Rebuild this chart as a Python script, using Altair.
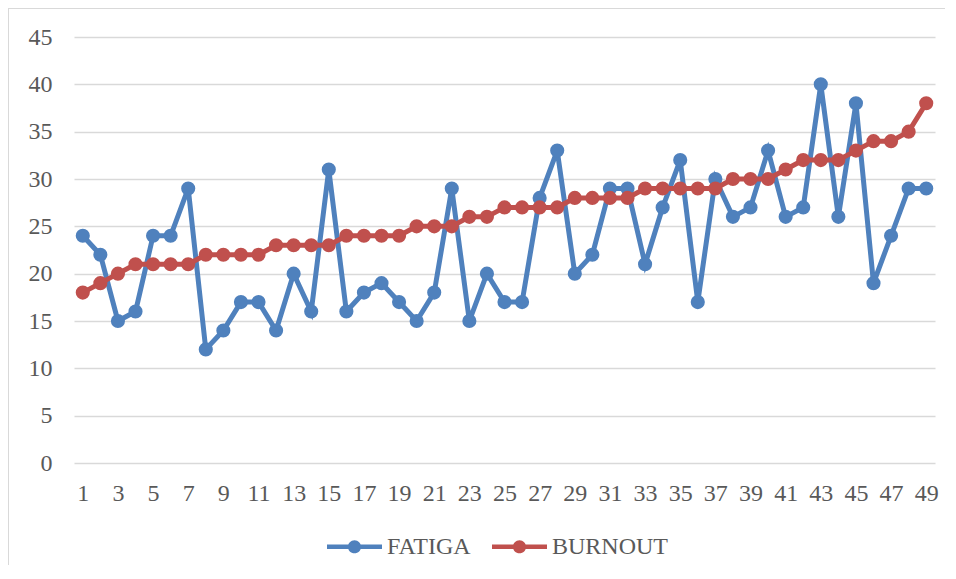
import altair as alt
import pandas as pd

idx = list(range(1, 50))
fatiga = [24, 22, 15, 16, 24, 24, 29, 12, 14, 17, 17, 14, 20, 16, 31, 16, 18, 19, 17, 15,
          18, 29, 15, 20, 17, 17, 28, 33, 20, 22, 29, 29, 21, 27, 32, 17, 30, 26, 27, 33,
          26, 27, 40, 26, 38, 19, 24, 29, 29]
burnout = [18, 19, 20, 21, 21, 21, 21, 22, 22, 22, 22, 23, 23, 23, 23, 24, 24, 24, 24, 25,
           25, 25, 26, 26, 27, 27, 27, 27, 28, 28, 28, 28, 29, 29, 29, 29, 29, 30, 30, 30,
           31, 32, 32, 32, 33, 34, 34, 35, 38]
series = ["FATIGA", "BURNOUT"]
colors = ["#4F81BD", "#C0504D"]
x_ticks = list(range(1, 50, 2))
y_ticks = list(range(0, 50, 5))

df = pd.DataFrame({
    "idx": idx * 2,
    "valor": fatiga + burnout,
    "serie": ["FATIGA"] * len(idx) + ["BURNOUT"] * len(idx),
})

W, H = 861, 426
FONT = "Liberation Serif"
GRAY = "#595959"
FS = 24

legend_path = ("M-1,-0.08L-0.2,-0.08L-0.2,0.08L-1,0.08Z "
               "M0.2,-0.08L1,-0.08L1,0.08L0.2,0.08Z "
               "M-0.24,0A0.24,0.24,0,1,1,0.24,0A0.24,0.24,0,1,1,-0.24,0Z")

xenc = alt.X("idx:O", scale=alt.Scale(type="point", padding=0.5),
             axis=alt.Axis(values=x_ticks, labelAngle=0, title=None, domain=False,
                           ticks=False, grid=False, labelPadding=18,
                           labelFont=FONT, labelFontSize=FS, labelColor=GRAY))
yenc = alt.Y("valor:Q", scale=alt.Scale(domain=[0, 45], nice=False),
             axis=alt.Axis(values=y_ticks, title=None, domain=False, ticks=False,
                           grid=True, gridColor="#d9d9d9", gridWidth=1.5,
                           labelPadding=22, labelFont=FONT, labelFontSize=FS,
                           labelColor=GRAY))
cscale = alt.Scale(domain=series, range=colors)
legend = alt.Legend(title=None, orient="none", legendX=253, legendY=482,
                    direction="horizontal", symbolType=legend_path, symbolSize=3025,
                    symbolStrokeWidth=0,
                    labelFont=FONT, labelFontSize=FS,
                    labelColor=GRAY, labelOffset=5, columnPadding=21)

layers = []
for s in series:
    sub = df[df["serie"] == s]
    base = alt.Chart(sub)
    line = base.mark_line(strokeWidth=5).encode(
        x=xenc, y=yenc,
        color=alt.Color("serie:N", scale=cscale, legend=legend))
    pts = base.mark_circle(size=200, opacity=1).encode(
        x=xenc, y=yenc,
        color=alt.Color("serie:N", scale=cscale, legend=legend))
    layers += [line, pts]

frame_top = alt.Chart(df).mark_rule(color="#d9d9d9", strokeWidth=1.5).encode(
    x=alt.value(-66), x2=alt.value(W + 40), y=alt.value(-29))
frame_left = alt.Chart(df).mark_rule(color="#d9d9d9", strokeWidth=1.5).encode(
    x=alt.value(-66), y=alt.value(-29), y2=alt.value(H + 140))

chart = alt.layer(*layers, frame_top, frame_left).properties(
    width=W, height=H,
    autosize=alt.AutoSizeParams(type="none"),
    padding={"left": 66, "top": 29, "right": 10, "bottom": 102},
).configure_view(stroke=None).configure_legend(symbolFillColor="#4F81BD")

chart.save("out.html", embed_options={"renderer": "svg", "actions": False})
